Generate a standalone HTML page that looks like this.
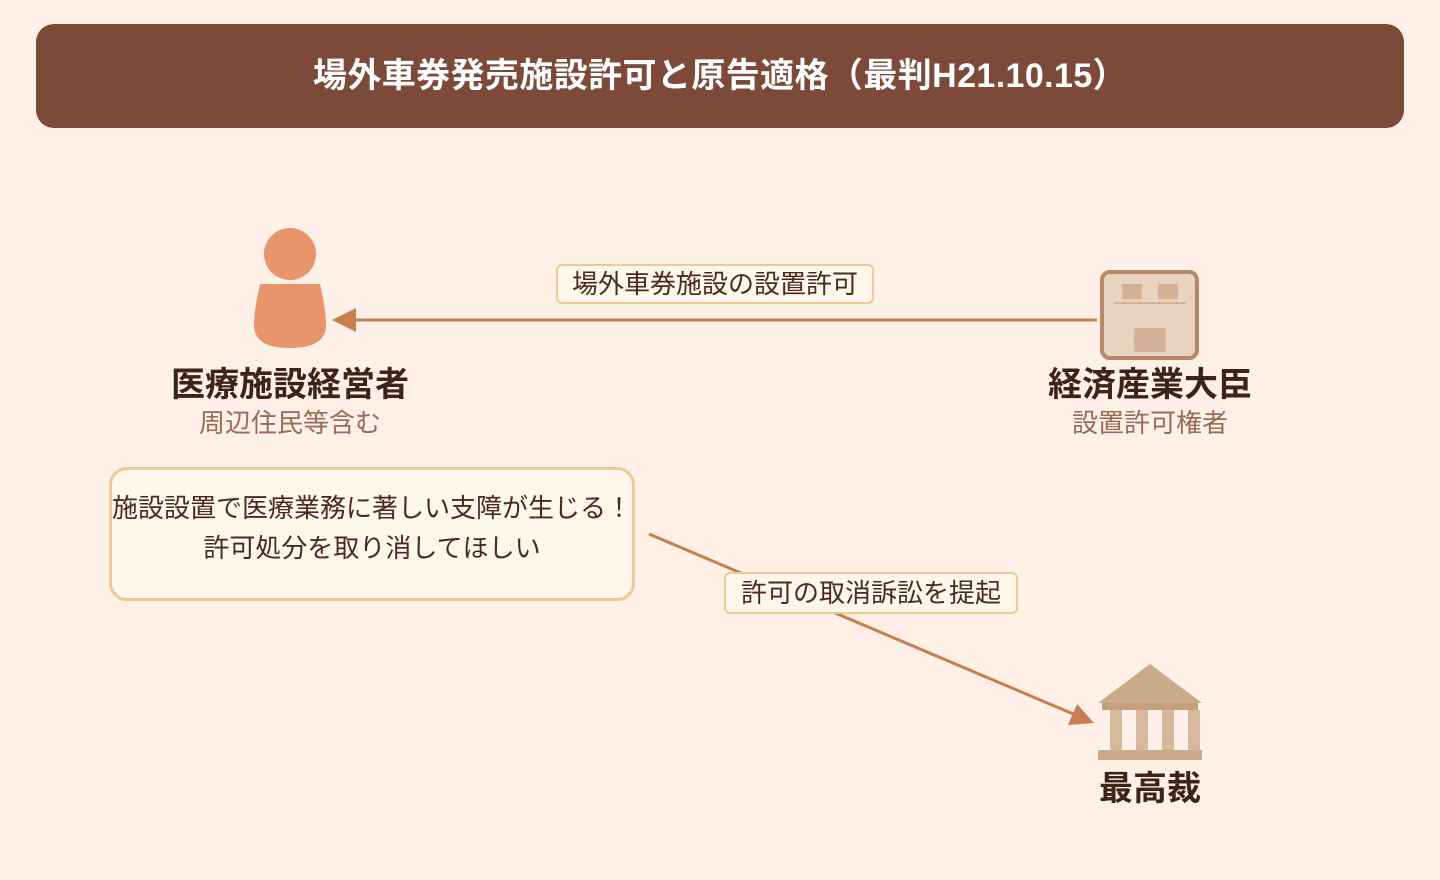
<!DOCTYPE html>
<html><head><meta charset="utf-8"><style>
body{margin:0;width:1440px;height:880px;background:#fff1e8;font-family:"Liberation Sans","Noto Sans CJK JP",sans-serif;position:relative;overflow:hidden}
.t{position:absolute;white-space:nowrap}
</style></head><body>
<div style="position:absolute;left:36px;top:24px;width:1368px;height:104px;background:#7d4a39;border-radius:18px"></div>
<div class="t" style="left:0;width:1440px;top:54px;text-align:center;color:#fff;font-size:34px;font-weight:bold;line-height:44px;letter-spacing:0.4px">場外車券発売施設許可と原告適格（最判H21.10.15）</div>
<svg width="1440" height="880" style="position:absolute;left:0;top:0">
<circle cx="290" cy="254" r="26" fill="#e8956b"/>
<path d="M260 284 L320 284 Q326 310 326 325 Q326 348 290 348 Q254 348 254 325 Q254 310 260 284 Z" fill="#e8956b"/>
<line x1="1097" y1="320" x2="350" y2="320" stroke="#c97d50" stroke-width="3"/>
<polygon points="332,320 356,308 356,332" fill="#c97d50"/>
<rect x="1102" y="272" width="95" height="86" rx="8" fill="#e8d3bf" stroke="#b8876a" stroke-width="4"/>
<rect x="1122" y="284" width="20" height="15" rx="2" fill="#d4b096"/>
<rect x="1158" y="284" width="20" height="15" rx="2" fill="#d4b096"/>
<line x1="1114" y1="303" x2="1186" y2="303" stroke="#d4b096" stroke-width="2"/>
<rect x="1134" y="328" width="32" height="24" rx="2" fill="#d4b096"/>
<line x1="649" y1="534" x2="1078" y2="716" stroke="#c97d50" stroke-width="3"/>
<polygon points="1094,723 1068,725 1077,704" fill="#c97d50"/>
<polygon points="1150,664 1202,703 1098,703" fill="#c9ab8a"/>
<rect x="1102" y="703" width="96" height="7" fill="#c4a080"/>
<rect x="1110" y="710" width="12" height="40" fill="#d6b99c"/>
<rect x="1136" y="710" width="12" height="40" fill="#d6b99c"/>
<rect x="1162" y="710" width="12" height="40" fill="#d6b99c"/>
<rect x="1188" y="710" width="12" height="40" fill="#d6b99c"/>
<rect x="1098" y="750" width="104" height="10" fill="#c9ab8a"/>
</svg>
<div class="t" style="left:556px;top:264px;width:318px;height:40px;background:#fff7ec;border:2px solid #f0c896;border-radius:6px;box-sizing:border-box;text-align:center;font-size:26px;line-height:36px;color:#4a2a1c">場外車券施設の設置許可</div>
<div class="t" style="left:140px;width:300px;text-align:center;top:362px;font-size:34px;font-weight:bold;color:#3e2418;line-height:46px">医療施設経営者</div>
<div class="t" style="left:140px;width:300px;text-align:center;top:406px;font-size:26px;color:#9a6a55;line-height:34px">周辺住民等含む</div>
<div class="t" style="left:1000px;width:300px;text-align:center;top:362px;font-size:34px;font-weight:bold;color:#3e2418;line-height:46px">経済産業大臣</div>
<div class="t" style="left:1000px;width:300px;text-align:center;top:406px;font-size:26px;color:#9a6a55;line-height:34px">設置許可権者</div>
<div style="position:absolute;left:109px;top:467px;width:526px;height:134px;box-sizing:border-box;border:3px solid #f0c896;border-radius:18px;background:#fff7ec"></div>
<div class="t" style="left:109px;width:526px;text-align:center;top:488px;font-size:26px;line-height:40px;color:#4a2a1c">施設設置で医療業務に著しい支障が生じる！<br>許可処分を取り消してほしい</div>
<div class="t" style="left:724px;top:572px;width:294px;height:42px;background:#fff7ec;border:2px solid #f0c896;border-radius:6px;box-sizing:border-box;text-align:center;font-size:26px;line-height:38px;color:#4a2a1c">許可の取消訴訟を提起</div>
<div class="t" style="left:1000px;width:300px;text-align:center;top:766px;font-size:34px;font-weight:bold;color:#3e2418;line-height:46px">最高裁</div>
</body></html>
